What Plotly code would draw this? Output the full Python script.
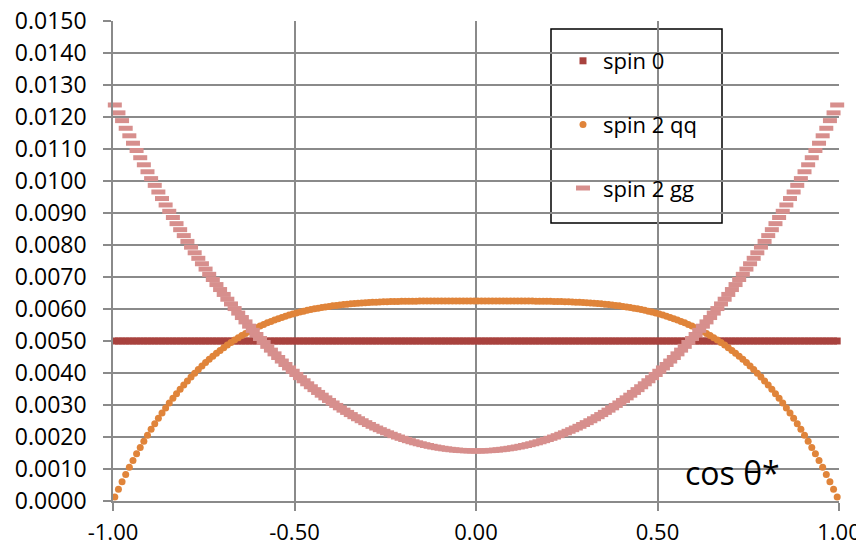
import numpy as np
import plotly.graph_objects as go

# cos theta* bin centres, -0.995 ... 0.995 (200 bins of width 0.01)
cos_theta = np.round(np.linspace(-0.995, 0.995, 200), 3)

spin0 = [0.005] * 200

spin2_qq = [
    0.0001241, 0.0003666, 0.000602, 0.0008301, 0.0010513, 0.0012657, 0.0014733, 0.0016744, 0.0018691, 0.0020575,
    0.0022397, 0.002416, 0.0025864, 0.002751, 0.00291, 0.0030636, 0.0032117, 0.0033547, 0.0034925, 0.0036254,
    0.0037534, 0.0038767, 0.0039953, 0.0041094, 0.0042192, 0.0043247, 0.004426, 0.0045232, 0.0046166, 0.004706,
    0.0047918, 0.0048739, 0.0049525, 0.0050277, 0.0050996, 0.0051683, 0.0052338, 0.0052963, 0.0053559, 0.0054127,
    0.0054667, 0.005518, 0.0055668, 0.0056131, 0.005657, 0.0056986, 0.005738, 0.0057752, 0.0058103, 0.0058435,
    0.0058748, 0.0059042, 0.0059318, 0.0059578, 0.0059821, 0.0060049, 0.0060262, 0.0060461, 0.0060646, 0.0060818,
    0.0060979, 0.0061127, 0.0061264, 0.0061391, 0.0061507, 0.0061615, 0.0061713, 0.0061803, 0.0061885, 0.0061959,
    0.0062027, 0.0062088, 0.0062143, 0.0062192, 0.0062236, 0.0062275, 0.0062309, 0.006234, 0.0062366, 0.006239,
    0.006241, 0.0062427, 0.0062441, 0.0062454, 0.0062464, 0.0062472, 0.0062479, 0.0062485, 0.0062489, 0.0062492,
    0.0062495, 0.0062497, 0.0062498, 0.0062499, 0.0062499, 0.00625, 0.00625, 0.00625, 0.00625, 0.00625,
    0.00625, 0.00625, 0.00625, 0.00625, 0.00625, 0.0062499, 0.0062499, 0.0062498, 0.0062497, 0.0062495,
    0.0062492, 0.0062489, 0.0062485, 0.0062479, 0.0062472, 0.0062464, 0.0062454, 0.0062441, 0.0062427, 0.006241,
    0.006239, 0.0062366, 0.006234, 0.0062309, 0.0062275, 0.0062236, 0.0062192, 0.0062143, 0.0062088, 0.0062027,
    0.0061959, 0.0061885, 0.0061803, 0.0061713, 0.0061615, 0.0061507, 0.0061391, 0.0061264, 0.0061127, 0.0060979,
    0.0060818, 0.0060646, 0.0060461, 0.0060262, 0.0060049, 0.0059821, 0.0059578, 0.0059318, 0.0059042, 0.0058748,
    0.0058435, 0.0058103, 0.0057752, 0.005738, 0.0056986, 0.005657, 0.0056131, 0.0055668, 0.005518, 0.0054667,
    0.0054127, 0.0053559, 0.0052963, 0.0052338, 0.0051683, 0.0050996, 0.0050277, 0.0049525, 0.0048739, 0.0047918,
    0.004706, 0.0046166, 0.0045232, 0.004426, 0.0043247, 0.0042192, 0.0041094, 0.0039953, 0.0038767, 0.0037534,
    0.0036254, 0.0034925, 0.0033547, 0.0032117, 0.0030636, 0.00291, 0.002751, 0.0025864, 0.002416, 0.0022397,
    0.0020575, 0.0018691, 0.0016744, 0.0014733, 0.0012657, 0.0010513, 0.0008301, 0.000602, 0.0003666, 0.0001241,
]

spin2_gg = [
    0.0123755, 0.0121292, 0.0118866, 0.0116477, 0.0114124, 0.0111807, 0.0109525, 0.0107279, 0.0105067, 0.010289,
    0.0100747, 0.0098637, 0.0096561, 0.0094519, 0.0092509, 0.0090531, 0.0088586, 0.0086672, 0.008479, 0.0082939,
    0.0081119, 0.0079329, 0.007757, 0.0075841, 0.0074142, 0.0072472, 0.0070831, 0.0069219, 0.0067636, 0.0066081,
    0.0064554, 0.0063055, 0.0061584, 0.0060139, 0.0058722, 0.0057332, 0.0055968, 0.005463, 0.0053319, 0.0052033,
    0.0050773, 0.0049539, 0.0048329, 0.0047145, 0.0045985, 0.004485, 0.0043739, 0.0042652, 0.0041589, 0.004055,
    0.0039534, 0.0038542, 0.0037573, 0.0036627, 0.0035703, 0.0034803, 0.0033924, 0.0033068, 0.0032235, 0.0031423,
    0.0030633, 0.0029864, 0.0029118, 0.0028392, 0.0027688, 0.0027005, 0.0026343, 0.0025702, 0.0025081, 0.0024481,
    0.0023902, 0.0023343, 0.0022804, 0.0022286, 0.0021787, 0.0021309, 0.002085, 0.0020411, 0.0019992, 0.0019592,
    0.0019212, 0.0018852, 0.0018511, 0.0018189, 0.0017886, 0.0017603, 0.0017339, 0.0017094, 0.0016868, 0.001666,
    0.0016472, 0.0016303, 0.0016153, 0.0016021, 0.0015909, 0.0015815, 0.001574, 0.0015684, 0.0015646, 0.0015627,
    0.0015627, 0.0015646, 0.0015684, 0.001574, 0.0015815, 0.0015909, 0.0016021, 0.0016153, 0.0016303, 0.0016472,
    0.001666, 0.0016868, 0.0017094, 0.0017339, 0.0017603, 0.0017886, 0.0018189, 0.0018511, 0.0018852, 0.0019212,
    0.0019592, 0.0019992, 0.0020411, 0.002085, 0.0021309, 0.0021787, 0.0022286, 0.0022804, 0.0023343, 0.0023902,
    0.0024481, 0.0025081, 0.0025702, 0.0026343, 0.0027005, 0.0027688, 0.0028392, 0.0029118, 0.0029864, 0.0030633,
    0.0031423, 0.0032235, 0.0033068, 0.0033924, 0.0034803, 0.0035703, 0.0036627, 0.0037573, 0.0038542, 0.0039534,
    0.004055, 0.0041589, 0.0042652, 0.0043739, 0.004485, 0.0045985, 0.0047145, 0.0048329, 0.0049539, 0.0050773,
    0.0052033, 0.0053319, 0.005463, 0.0055968, 0.0057332, 0.0058722, 0.0060139, 0.0061584, 0.0063055, 0.0064554,
    0.0066081, 0.0067636, 0.0069219, 0.0070831, 0.0072472, 0.0074142, 0.0075841, 0.007757, 0.0079329, 0.0081119,
    0.0082939, 0.008479, 0.0086672, 0.0088586, 0.0090531, 0.0092509, 0.0094519, 0.0096561, 0.0098637, 0.0100747,
    0.010289, 0.0105067, 0.0107279, 0.0109525, 0.0111807, 0.0114124, 0.0116477, 0.0118866, 0.0121292, 0.0123755,
]

x_ticks = [-1.0, -0.5, 0.0, 0.5, 1.0]
x_tick_labels = ["-1.00", "-0.50", "0.00", "0.50", "1.00"]
y_ticks = [0.0000, 0.0010, 0.0020, 0.0030, 0.0040, 0.0050, 0.0060, 0.0070,
           0.0080, 0.0090, 0.0100, 0.0110, 0.0120, 0.0130, 0.0140, 0.0150]

FONT = "Open Sans"
GRID = "#8a8a8a"

# plot area in page pixels (the page has an 8px body margin)
L, R, T, B = 113, 839, 21, 501
PW, PH = R - L, B - T

fig = go.Figure()
fig.add_trace(go.Scatter(
    x=cos_theta, y=spin0, mode="markers", name="spin 0", legendgroup="a",
    marker=dict(symbol="square", size=7, color="#a8423e", line=dict(width=0)),
    cliponaxis=False,
))
fig.add_trace(go.Scatter(
    x=cos_theta, y=spin2_qq, mode="markers", name="spin 2 qq", legendgroup="b",
    marker=dict(symbol="circle", size=7, color="#e0843a", line=dict(width=0)),
    cliponaxis=False,
))
fig.add_trace(go.Scatter(
    x=cos_theta, y=spin2_gg, mode="markers", name="spin 2 gg", legendgroup="c",
    marker=dict(symbol="line-ew", size=10, color="#d78f8d",
                line=dict(width=5, color="#d78f8d")),
    cliponaxis=False,
))

fig.update_layout(
    width=856, height=539,
    margin=dict(l=L - 8, r=864 - R, t=T - 8, b=547 - B, autoexpand=False),
    paper_bgcolor="white", plot_bgcolor="white",
    font=dict(family=FONT, size=22, color="black"),
    showlegend=True,
    legend=dict(
        x=(563 - L) / PW, xanchor="left",
        y=(B - 40) / PH, yanchor="top",
        bgcolor="rgba(0,0,0,0)", borderwidth=0,
        tracegroupgap=32, traceorder="grouped",
        font=dict(family=FONT, size=22, color="black"),
    ),
    shapes=[dict(
        type="rect", xref="paper", yref="paper",
        x0=(551 - L) / PW, x1=(722 - L) / PW,
        y0=(B - 223) / PH, y1=(B - 29) / PH,
        line=dict(color="black", width=1.5), fillcolor="white", layer="below",
    )],
    annotations=[dict(
        text="cos θ*", xref="paper", yref="paper",
        x=(732 - L) / PW, y=(B - 472) / PH,
        xanchor="center", yanchor="middle", showarrow=False,
        font=dict(family=FONT, size=32, color="black"),
    )],
)

fig.update_xaxes(
    range=[-1, 1], tickvals=x_ticks, ticktext=x_tick_labels,
    showgrid=True, gridcolor=GRID, gridwidth=1.5,
    showline=True, linecolor=GRID, linewidth=1.5,
    ticks="outside", ticklen=8, tickcolor=GRID, tickwidth=1.5,
    zeroline=False, ticklabelstandoff=3, automargin=False,
    ticklabeloverflow="allow",
    tickfont=dict(family=FONT, size=22, color="black"),
)
fig.update_yaxes(
    range=[0, 0.015], tickvals=y_ticks, tickformat=".4f",
    showgrid=True, gridcolor=GRID, gridwidth=1.5,
    showline=True, linecolor=GRID, linewidth=1.5,
    ticks="outside", ticklen=8, tickcolor=GRID, tickwidth=1.5,
    zeroline=False, ticklabelstandoff=12, automargin=False,
    ticklabeloverflow="allow",
    tickfont=dict(family=FONT, size=23, color="black"),
)

fig.write_html("out.html")
